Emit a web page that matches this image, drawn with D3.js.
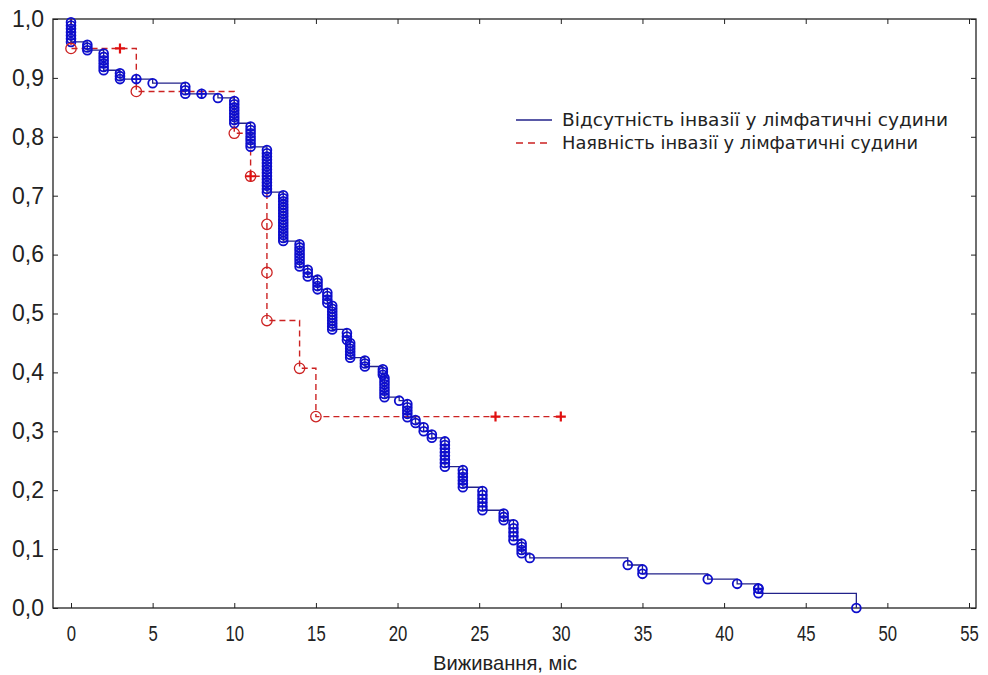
<!DOCTYPE html>
<html>
<head>
<meta charset="utf-8">
<script src="https://cdn.jsdelivr.net/npm/d3@7"></script>
<style>
  body { margin: 0; background: #fff; }
  text { font-family: "Liberation Sans", Arial, sans-serif; fill: #222; }
</style>
</head>
<body>
<div id="chart"></div>
<script>
// tick labels
const xTicks = [0, 5, 10, 15, 20, 25, 30, 35, 40, 45, 50, 55];
const yTicks = [0, 0.1, 0.2, 0.3, 0.4, 0.5, 0.6, 0.7, 0.8, 0.9, 1.0];

// no lymphatic invasion (blue): event times, survival after the step, deaths at that time
const blueTimes = [0, 1, 2, 3, 5, 7, 9, 10, 11, 12, 13, 14, 14.5, 15.1, 15.7, 16, 16.9, 17.1, 18,
  19.1, 19.2, 20.1, 20.6, 21.1, 21.6, 22.1, 22.9, 24, 25.2, 26.5, 27.1, 27.6, 28.1, 34.1, 35, 39, 40.8, 42.1, 48.1];
const blueSurv = [0.961, 0.947, 0.913, 0.898, 0.891, 0.873, 0.866, 0.823, 0.783, 0.706, 0.623, 0.58, 0.563,
  0.541, 0.518, 0.473, 0.455, 0.425, 0.41, 0.396, 0.358, 0.352, 0.324, 0.314, 0.3, 0.289, 0.24, 0.205, 0.166,
  0.149, 0.115, 0.093, 0.085, 0.073, 0.058, 0.049, 0.041, 0.025, 0];
const blueDeaths = [7, 3, 6, 3, 1, 3, 1, 8, 7, 14, 16, 8, 3, 4, 4, 9, 3, 6, 3, 3, 7, 1, 5, 2, 2, 2, 8, 6, 6,
  3, 5, 4, 1, 1, 2, 1, 1, 2, 1];
const blueCensT = [4, 8, 42.1];
const blueCensS = [0.898, 0.873, 0.033];

// lymphatic invasion present (red)
const redTimes = [0, 4, 10, 11, 12, 14, 15];
const redSurv = [0.95, 0.877, 0.806, 0.733, 0.488, 0.407, 0.325];
const redDeaths = [1, 1, 1, 1, 3, 1, 1];
const redCensT = [3, 11, 26, 30];
const redCensS = [0.95, 0.733, 0.325, 0.325];

const legendLabels = ["Відсутність інвазії у лімфатичні судини", "Наявність інвазії у лімфатичні судини"];

const W = 988, H = 675;
const frame = { left: 53, right: 976, top: 19, bottom: 608 };
const blueColor = "#22228a", blueMark = "#0e0ecc", redColor = "#cc2222";

const x = d3.scaleLinear().domain([0, 55]).range([71, 969]);
const y = d3.scaleLinear().domain([0, 1]).range([frame.bottom, frame.top]);

const svg = d3.select("#chart").append("svg").attr("width", W).attr("height", H);

// frame
svg.append("rect")
  .attr("x", frame.left).attr("y", frame.top)
  .attr("width", frame.right - frame.left).attr("height", frame.bottom - frame.top)
  .attr("fill", "none").attr("stroke", "#222").attr("stroke-width", 1.3);

// axes with inward ticks
const tickLen = 5;
svg.append("g").attr("transform", `translate(0,${frame.bottom})`)
  .call(d3.axisBottom(x).tickValues(xTicks).tickSizeInner(-tickLen).tickSizeOuter(0).tickPadding(17))
  .call(g => g.select(".domain").remove())
  .call(g => g.selectAll("line").attr("stroke", "#222"))
  .call(g => g.selectAll("text")
    .attr("transform", "scale(0.76,1)")
    .style("font-size", "22px").style("font-family", "Liberation Sans, Arial, sans-serif").style("fill", "#222"));
svg.append("g").attr("transform", `translate(0,${frame.top})`)
  .call(d3.axisTop(x).tickValues(xTicks).tickSizeInner(-tickLen).tickSizeOuter(0).tickFormat(""))
  .call(g => g.select(".domain").remove())
  .call(g => g.selectAll("line").attr("stroke", "#222"));
svg.append("g").attr("transform", `translate(${frame.left},0)`)
  .call(d3.axisLeft(y).tickValues(yTicks).tickSizeInner(-tickLen).tickSizeOuter(0).tickPadding(9)
    .tickFormat(d => d3.format(".1f")(d).replace(".", ",")))
  .call(g => g.select(".domain").remove())
  .call(g => g.selectAll("line").attr("stroke", "#222"))
  .call(g => g.selectAll("text").style("font-size", "23px").style("font-family", "Liberation Sans, Arial, sans-serif").style("fill", "#222"));
svg.append("g").attr("transform", `translate(${frame.right},0)`)
  .call(d3.axisRight(y).tickValues(yTicks).tickSizeInner(-tickLen).tickSizeOuter(0).tickFormat(""))
  .call(g => g.select(".domain").remove())
  .call(g => g.selectAll("line").attr("stroke", "#222"));

svg.append("text")
  .attr("x", 433).attr("y", 670)
  .attr("textLength", 144).attr("lengthAdjust", "spacingAndGlyphs")
  .style("font-size", "21px").text("Виживання, міс");

// build step points and event markers (KM: equal drop per death inside a step)
function stepPoints(times, surv, end) {
  const pts = [[0, 1]];
  times.forEach((t, i) => pts.push([t, surv[i]]));
  pts.push([end, surv[surv.length - 1]]);
  return pts;
}
function eventMarks(times, surv, deaths) {
  const out = [];
  let prev = 1;
  times.forEach((t, i) => {
    const n = deaths[i];
    for (let k = 0; k < n; k++) out.push([t, prev - (prev - surv[i]) * (k + 1) / n]);
    prev = surv[i];
  });
  return out;
}

const line = d3.line().x(d => x(d[0])).y(d => y(d[1])).curve(d3.curveStepAfter);
const plus = "M-5,0H5M0,-5V5";

// red line
svg.append("path")
  .attr("d", line(stepPoints(redTimes, redSurv, 30)))
  .attr("fill", "none").attr("stroke", redColor).attr("stroke-width", 1.4)
  .attr("stroke-dasharray", "6,4");

// blue line + markers
svg.append("path")
  .attr("d", line(stepPoints(blueTimes, blueSurv, blueTimes[blueTimes.length - 1])))
  .attr("fill", "none").attr("stroke", blueColor).attr("stroke-width", 1.3);

svg.append("g").selectAll("circle")
  .data(eventMarks(blueTimes, blueSurv, blueDeaths))
  .join("circle")
  .attr("cx", d => x(d[0])).attr("cy", d => y(d[1])).attr("r", 4.4)
  .attr("fill", "none").attr("stroke", blueMark).attr("stroke-width", 1.8);

const blueCens = svg.append("g").selectAll("g")
  .data(blueCensT.map((t, i) => [t, blueCensS[i]]))
  .join("g")
  .attr("transform", d => `translate(${x(d[0])},${y(d[1])})`);
blueCens.append("circle").attr("r", 4.4).attr("fill", "none").attr("stroke", blueMark).attr("stroke-width", 1.8);
blueCens.append("path").attr("d", plus).attr("stroke", blueMark).attr("stroke-width", 1.8);

// red markers
svg.append("g").selectAll("circle")
  .data(eventMarks(redTimes, redSurv, redDeaths))
  .join("circle")
  .attr("cx", d => x(d[0])).attr("cy", d => y(d[1])).attr("r", 5.2)
  .attr("fill", "none").attr("stroke", redColor).attr("stroke-width", 1.3);

svg.append("g").selectAll("path")
  .data(redCensT.map((t, i) => [t, redCensS[i]]))
  .join("path")
  .attr("transform", d => `translate(${x(d[0])},${y(d[1])})`)
  .attr("d", plus).attr("stroke", "#e01010").attr("stroke-width", 2.2);

// legend
const legendEnds = [948, 918];
const legend = svg.append("g");
legendLabels.forEach((label, i) => {
  const ly = 120 + i * 23;
  legend.append("line")
    .attr("x1", 516).attr("x2", 552).attr("y1", ly).attr("y2", ly)
    .attr("stroke", i === 0 ? blueColor : redColor).attr("stroke-width", 1.5)
    .attr("stroke-dasharray", i === 0 ? null : "7,5");
  legend.append("text")
    .attr("x", 562).attr("y", ly + 6)
    .attr("textLength", legendEnds[i] - 562).attr("lengthAdjust", "spacingAndGlyphs")
    .style("font-size", "17px").style("font-family", "DejaVu Sans, sans-serif")
    .text(label);
});
</script>
</body>
</html>
